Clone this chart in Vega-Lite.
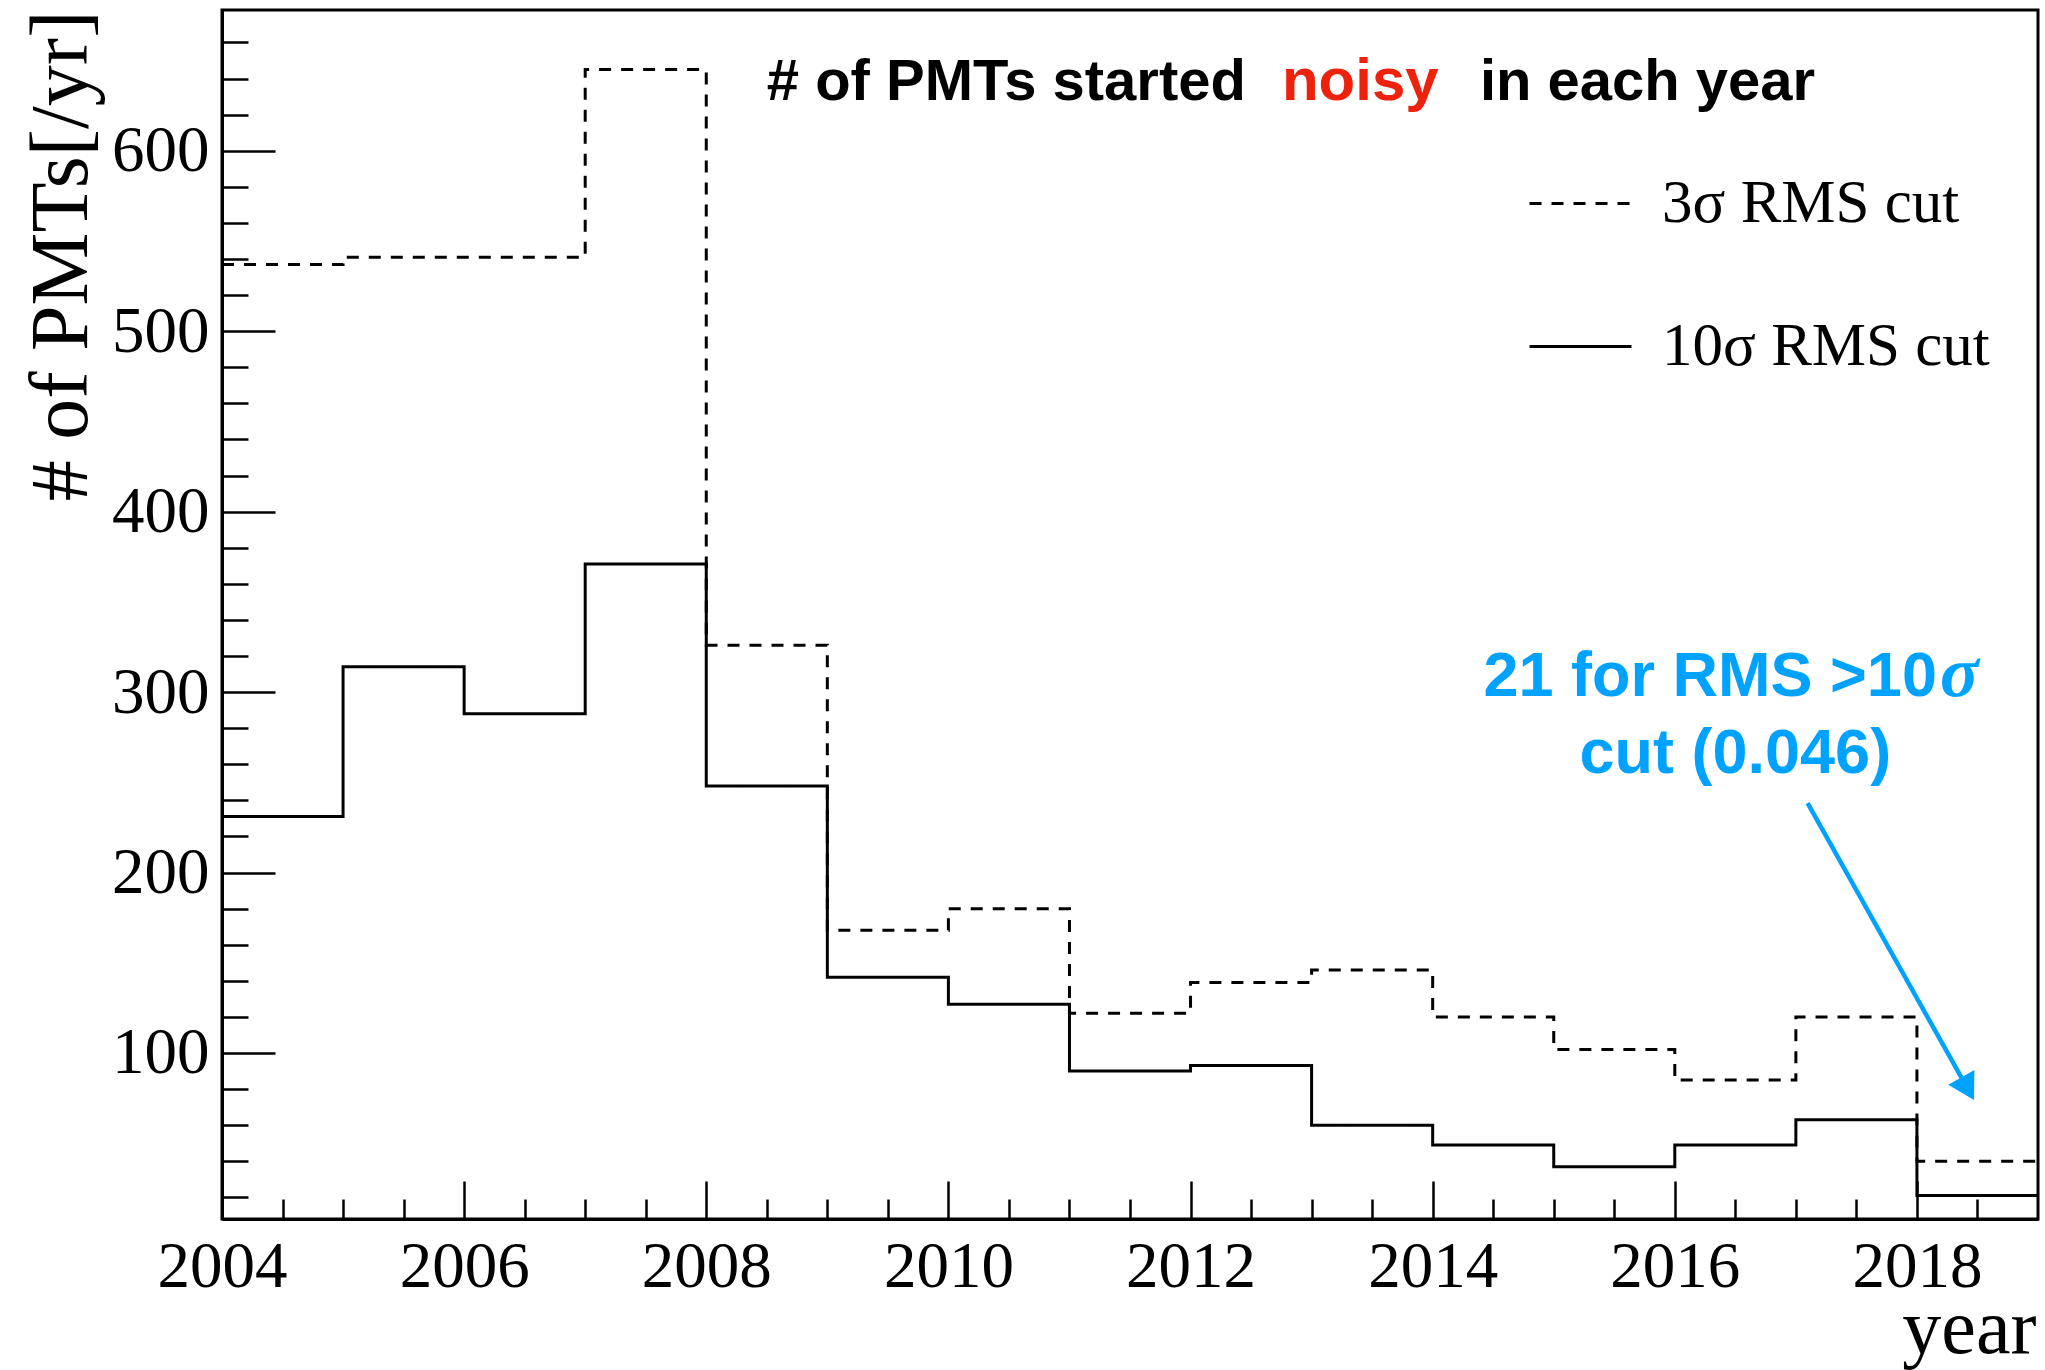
{
  "$schema": "https://vega.github.io/schema/vega-lite/v6.json",
  "width": 1816,
  "height": 1209,
  "autosize": {"type": "none"},
  "padding": {"left": 222, "top": 10, "right": 7, "bottom": 151},
  "background": "white",
  "config": {"view": {"stroke": "black", "strokeWidth": 3}},
  "datasets": {
    "hist": [
      {"year": 2004, "series": "3σ RMS cut", "n": 537},
      {"year": 2005, "series": "3σ RMS cut", "n": 541},
      {"year": 2006, "series": "3σ RMS cut", "n": 541},
      {"year": 2007, "series": "3σ RMS cut", "n": 645},
      {"year": 2008, "series": "3σ RMS cut", "n": 326},
      {"year": 2009, "series": "3σ RMS cut", "n": 168},
      {"year": 2010, "series": "3σ RMS cut", "n": 180},
      {"year": 2011, "series": "3σ RMS cut", "n": 122},
      {"year": 2012, "series": "3σ RMS cut", "n": 139},
      {"year": 2013, "series": "3σ RMS cut", "n": 146},
      {"year": 2014, "series": "3σ RMS cut", "n": 120},
      {"year": 2015, "series": "3σ RMS cut", "n": 102},
      {"year": 2016, "series": "3σ RMS cut", "n": 85},
      {"year": 2017, "series": "3σ RMS cut", "n": 120},
      {"year": 2018, "series": "3σ RMS cut", "n": 40},
      {"year": 2019, "series": "3σ RMS cut", "n": 40},
      {"year": 2004, "series": "10σ RMS cut", "n": 231},
      {"year": 2005, "series": "10σ RMS cut", "n": 314},
      {"year": 2006, "series": "10σ RMS cut", "n": 288},
      {"year": 2007, "series": "10σ RMS cut", "n": 371},
      {"year": 2008, "series": "10σ RMS cut", "n": 248},
      {"year": 2009, "series": "10σ RMS cut", "n": 142},
      {"year": 2010, "series": "10σ RMS cut", "n": 127},
      {"year": 2011, "series": "10σ RMS cut", "n": 90},
      {"year": 2012, "series": "10σ RMS cut", "n": 93},
      {"year": 2013, "series": "10σ RMS cut", "n": 60},
      {"year": 2014, "series": "10σ RMS cut", "n": 49},
      {"year": 2015, "series": "10σ RMS cut", "n": 37},
      {"year": 2016, "series": "10σ RMS cut", "n": 49},
      {"year": 2017, "series": "10σ RMS cut", "n": 63},
      {"year": 2018, "series": "10σ RMS cut", "n": 21},
      {"year": 2019, "series": "10σ RMS cut", "n": 21}
    ]
  },
  "data": {"name": "hist"},
  "resolve": {"axis": {"x": "independent", "y": "independent"}},
  "layer": [
    {
      "mark": {"type": "line", "interpolate": "step-after", "color": "black", "strokeWidth": 3},
      "encoding": {
        "x": {
          "field": "year", "type": "quantitative",
          "scale": {"domain": [2004, 2019], "nice": false, "zero": false},
          "axis": {
            "orient": "bottom",
            "values": [2004, 2006, 2008, 2010, 2012, 2014, 2016, 2018],
            "format": "d", "grid": false,
            "tickSize": -38, "tickWidth": 2.5, "tickColor": "black",
            "domainColor": "black", "domainWidth": 3,
            "labelFont": "Liberation Serif", "labelFontSize": 65, "labelColor": "black",
            "labelPadding": 105, "labelBaseline": "alphabetic", "labelFlush": false, "labelOverlap": false,
            "title": "year", "titleFont": "Liberation Serif", "titleFontSize": 78, "titleFontWeight": "normal",
            "titleColor": "black", "titleAnchor": "end", "titleAlign": "right", "titleX": 1814, "titleY": 133,
            "titleBaseline": "alphabetic"
          }
        },
        "y": {
          "field": "n", "type": "quantitative",
          "scale": {"domain": [8, 678], "nice": false, "zero": false},
          "axis": {
            "orient": "left",
            "values": [100, 200, 300, 400, 500, 600],
            "format": "d", "grid": false,
            "tickSize": -53, "tickWidth": 2.5, "tickColor": "black",
            "domainColor": "black", "domainWidth": 3,
            "labelFont": "Liberation Serif", "labelFontSize": 65, "labelColor": "black",
            "labelPadding": 66, "labelFlush": false, "labelOverlap": false,
            "title": "# of PMTs[/yr]", "titleFont": "Liberation Serif", "titleFontSize": 82, "titleFontWeight": "normal",
            "titleColor": "black", "titleAngle": 270, "titleAnchor": "end", "titleAlign": "right",
            "titleX": -136, "titleY": 0, "titleBaseline": "alphabetic"
          }
        },
        "strokeDash": {
          "field": "series", "type": "nominal",
          "scale": {"domain": ["3σ RMS cut", "10σ RMS cut"], "range": [[12, 10], [1, 0]]},
          "legend": {
            "orient": "none", "legendX": 1306, "legendY": 141, "title": null,
            "symbolType": "stroke", "symbolSize": 10404, "symbolStrokeWidth": 3, "symbolStrokeColor": "black",
            "labelFont": "Liberation Serif", "labelFontSize": 61, "labelColor": "black",
            "labelOffset": 29, "rowPadding": 60, "padding": 0, "labelLimit": 0
          }
        }
      }
    },
    {
      "mark": {"type": "point", "opacity": 0},
      "encoding": {
        "x": {
          "field": "year", "type": "quantitative",
          "axis": {
            "orient": "bottom",
            "values": [2004.5, 2005, 2005.5, 2006.5, 2007, 2007.5, 2008.5, 2009, 2009.5, 2010.5, 2011, 2011.5, 2012.5, 2013, 2013.5, 2014.5, 2015, 2015.5, 2016.5, 2017, 2017.5, 2018.5],
            "labels": false, "domain": false, "grid": false, "title": null,
            "tickSize": -20, "tickWidth": 2.5, "tickColor": "black"
          }
        },
        "y": {
          "field": "n", "type": "quantitative",
          "axis": {
            "orient": "left",
            "values": [20, 40, 60, 80, 120, 140, 160, 180, 220, 240, 260, 280, 320, 340, 360, 380, 420, 440, 460, 480, 520, 540, 560, 580, 620, 640, 660],
            "labels": false, "domain": false, "grid": false, "title": null,
            "tickSize": -26, "tickWidth": 2.5, "tickColor": "black"
          }
        }
      }
    },
    {
      "data": {"values": [{}]},
      "mark": {"type": "text", "text": "# of PMTs started", "font": "Liberation Sans", "fontWeight": "bold", "fontSize": 58, "align": "left", "baseline": "alphabetic", "color": "black"},
      "encoding": {
        "x": {"datum": 2008.5, "type": "quantitative", "axis": null},
        "y": {"datum": 628, "type": "quantitative", "axis": null}
      }
    },
    {
      "data": {"values": [{}]},
      "mark": {"type": "text", "text": "noisy", "font": "Liberation Sans", "fontWeight": "bold", "fontSize": 60, "align": "left", "baseline": "alphabetic", "color": "#EE220C"},
      "encoding": {
        "x": {"datum": 2012.755, "type": "quantitative", "axis": null},
        "y": {"datum": 628, "type": "quantitative", "axis": null}
      }
    },
    {
      "data": {"values": [{}]},
      "mark": {"type": "text", "text": "in each year", "font": "Liberation Sans", "fontWeight": "bold", "fontSize": 58, "align": "left", "baseline": "alphabetic", "color": "black"},
      "encoding": {
        "x": {"datum": 2014.39, "type": "quantitative", "axis": null},
        "y": {"datum": 628, "type": "quantitative", "axis": null}
      }
    },
    {
      "data": {"values": [{}]},
      "mark": {"type": "text", "text": "21 for RMS >10", "font": "Liberation Sans", "fontWeight": "bold", "fontSize": 63, "align": "left", "baseline": "alphabetic", "color": "#00A2FF"},
      "encoding": {
        "x": {"datum": 2014.42, "type": "quantitative", "axis": null},
        "y": {"datum": 298, "type": "quantitative", "axis": null}
      }
    },
    {
      "data": {"values": [{}]},
      "mark": {"type": "text", "text": "σ", "font": "Liberation Serif", "fontStyle": "italic", "fontWeight": "bold", "fontSize": 72, "align": "left", "baseline": "alphabetic", "color": "#00A2FF"},
      "encoding": {
        "x": {"datum": 2018.19, "type": "quantitative", "axis": null},
        "y": {"datum": 298, "type": "quantitative", "axis": null}
      }
    },
    {
      "data": {"values": [{}]},
      "mark": {"type": "text", "text": "cut (0.046)", "font": "Liberation Sans", "fontWeight": "bold", "fontSize": 63, "align": "center", "baseline": "alphabetic", "color": "#00A2FF"},
      "encoding": {
        "x": {"datum": 2016.5, "type": "quantitative", "axis": null},
        "y": {"datum": 255, "type": "quantitative", "axis": null}
      }
    },
    {
      "data": {"values": [{}]},
      "mark": {"type": "rule", "color": "#00A2FF", "strokeWidth": 4.5},
      "encoding": {
        "x": {"datum": 2017.097, "type": "quantitative", "axis": null},
        "y": {"datum": 238.5, "type": "quantitative", "axis": null},
        "x2": {"datum": 2018.419},
        "y2": {"datum": 80.2}
      }
    },
    {
      "data": {"values": [{}]},
      "mark": {"type": "point", "shape": "triangle-up", "filled": true, "size": 900, "angle": 150.8, "color": "#00A2FF", "opacity": 1},
      "encoding": {
        "x": {"datum": 2018.419, "type": "quantitative", "axis": null},
        "y": {"datum": 80.2, "type": "quantitative", "axis": null}
      }
    }
  ]
}
